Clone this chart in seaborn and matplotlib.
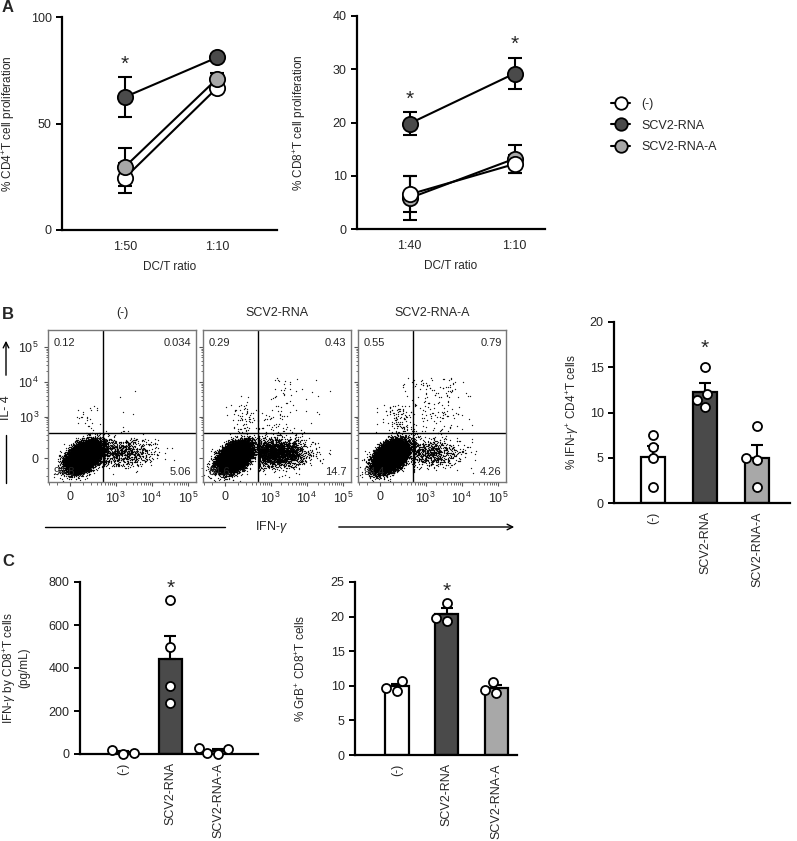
import numpy as np
import pandas as pd
import matplotlib
matplotlib.use("Agg")
import matplotlib.pyplot as plt
import seaborn as sns
from matplotlib.lines import Line2D

# ---- data ----
groups = ["(-)", "SCV2-RNA", "SCV2-RNA-A"]
palette = {"(-)": "#ffffff", "SCV2-RNA": "#4a4a4a", "SCV2-RNA-A": "#a8a8a8"}

# A: proliferation, mean and error (SEM)
cd4_ratios = ["1:50", "1:10"]
cd4_mean = {"(-)": [24.4, 66.7], "SCV2-RNA": [62.4, 81.0], "SCV2-RNA-A": [29.6, 71.0]}
cd4_err = {"(-)": [7.0, 1.5], "SCV2-RNA": [9.5, 1.5], "SCV2-RNA-A": [9.0, 2.5]}
cd8_ratios = ["1:40", "1:10"]
cd8_mean = {"(-)": [6.5, 12.2], "SCV2-RNA": [19.8, 29.2], "SCV2-RNA-A": [5.8, 13.2]}
cd8_err = {"(-)": [3.4, 1.7], "SCV2-RNA": [2.2, 3.0], "SCV2-RNA-A": [4.1, 2.6]}

# B: flow quadrant percentages (UL, UR, LL, LR)
q_ul = [0.12, 0.29, 0.55]
q_ur = [0.034, 0.43, 0.79]
q_ll = [94.8, 84.6, 94.4]
q_lr = [5.06, 14.7, 4.26]
flow_ticks = [0, 1e3, 1e4, 1e5]
flow_ticklabels = ["0", "$10^3$", "$10^4$", "$10^5$"]

# B right: % IFN-g+ CD4+ T cells (individual replicates)
ifng_cd4 = {"(-)": [7.5, 6.2, 5.0, 1.8],
            "SCV2-RNA": [15.0, 12.0, 11.4, 10.6],
            "SCV2-RNA-A": [8.5, 5.0, 4.7, 1.8]}
# C: IFN-g by CD8+ T cells (pg/mL) and % GrB+ CD8+ T cells
ifng_cd8 = {"(-)": [0, 3, 18],
            "SCV2-RNA": [714, 496, 316, 237],
            "SCV2-RNA-A": [25, 28, 2, 3]}
grb_cd8 = {"(-)": [10.7, 9.3, 9.7],
           "SCV2-RNA": [22.0, 19.4, 19.8],
           "SCV2-RNA-A": [10.5, 9.0, 9.4]}

sns.set_style("ticks")
plt.rcParams["font.family"] = ["Liberation Sans", "DejaVu Sans"]
plt.rcParams["mathtext.fontset"] = "custom"
plt.rcParams["mathtext.rm"] = "Liberation Sans"
plt.rcParams["mathtext.it"] = "Liberation Sans:italic"

W, H = 797, 841
fig = plt.figure(figsize=(W / 100, H / 100), dpi=100)


def px_axes(x0, y0, x1, y1):
    # axes from pixel box (top-left origin)
    return fig.add_axes([x0 / W, 1 - y1 / H, (x1 - x0) / W, (y1 - y0) / H])


def style_axes(ax):
    sns.despine(ax=ax)
    for s in ["left", "bottom"]:
        ax.spines[s].set_linewidth(1.6)
        ax.spines[s].set_color("black")
    ax.tick_params(axis="both", labelsize=9, width=1.4, length=4, color="black")


# ---------- panel A ----------
def prolif(ax, ratios, means, errs, ylim, yticks, ylabel, stars, order):
    for g in order:
        d = pd.DataFrame({"ratio": ratios, "value": means[g]})
        ax.errorbar(d["ratio"], d["value"], yerr=errs[g], fmt="none", ecolor="black",
                    elinewidth=1.5, capsize=5, capthick=1.5, zorder=2)
        sns.lineplot(data=d, x="ratio", y="value", sort=False, color="black", lw=1.5,
                     marker="o", markersize=11, markerfacecolor=palette[g],
                     markeredgecolor="black", markeredgewidth=1.3, ax=ax, zorder=3)
    for x, y in stars:
        ax.text(x, y, "*", ha="center", va="center", fontsize=15)
    ax.set_ylim(*ylim)
    ax.set_yticks(yticks)
    ax.set_ylabel(ylabel, fontsize=8.5)
    ax.set_xlabel("DC/T ratio", fontsize=8.5, labelpad=6)
    style_axes(ax)
    ax.tick_params(axis="x", length=0, pad=8)


axA1 = px_axes(62, 17, 277, 230)
prolif(axA1, cd4_ratios, cd4_mean, cd4_err, (0, 100), [0, 50, 100],
       "% CD4$^{+}$T cell proliferation", [(0, 78)], ["(-)", "SCV2-RNA-A", "SCV2-RNA"])
axA1.set_xlim(-0.68, 1.65)
axA1.yaxis.set_label_coords(-0.21, 0.5)

axA2 = px_axes(357, 16, 545, 229)
prolif(axA2, cd8_ratios, cd8_mean, cd8_err, (0, 40), [0, 10, 20, 30, 40],
       "% CD8$^{+}$T cell proliferation", [(0, 24.3), (1, 34.6)], ["SCV2-RNA-A", "(-)", "SCV2-RNA"])
axA2.set_xlim(-0.5, 1.29)
axA2.yaxis.set_label_coords(-0.26, 0.5)

handles = [Line2D([0], [0], color="black", lw=1.5, marker="o", markersize=9,
                  markerfacecolor=palette[g], markeredgecolor="black", markeredgewidth=1.3)
           for g in groups]
fig.legend(handles, groups, loc="upper left", bbox_to_anchor=(600 / W, 1 - 87 / H),
           frameon=False, fontsize=9, handlelength=1.5, handletextpad=0.9, labelspacing=0.75)

# ---------- panel B flow plots ----------
wx, wy = 112.0, 134.0
rng = np.random.default_rng(3)
n_events = 20000
blob_u = [0.85, 0.6, 0.65]

for i, g in enumerate(groups):
    x0 = [48, 203, 358][i]
    ax = px_axes(x0, 330, x0 + 148, 482)
    ax.set_xscale("function", functions=(lambda x: np.arcsinh(x / wx), lambda u: wx * np.sinh(u)))
    ax.set_yscale("function", functions=(lambda y: np.arcsinh(y / wy), lambda v: wy * np.sinh(v)))
    n_ll = int(n_events * q_ll[i] / 100)
    n_lr = int(n_events * q_lr[i] / 100)
    n_ul = max(int(n_events * q_ul[i] / 100), 3)
    n_ur = max(int(n_events * q_ur[i] / 100), 3)
    cov = [[0.24, 0.1], [0.1, 0.2]]
    ll = rng.multivariate_normal([blob_u[i], 0.1], cov, n_ll)
    lr = np.column_stack([rng.normal(3.2, 1.0, n_lr), rng.normal(0.35, 0.45, n_lr)])
    lr[:, 0] = np.clip(lr[:, 0], 2.15, 7.2)
    ul = np.column_stack([rng.normal(1.2, 0.5, n_ul), rng.uniform(1.7, 3.5, n_ul)])
    ur = np.column_stack([rng.normal(3.6, 1.0, n_ur), rng.uniform(1.7, 5.3, n_ur)])
    uv = np.vstack([ll, lr, ul, ur])
    ev = pd.DataFrame({"IFNg": wx * np.sinh(uv[:, 0]), "IL4": wy * np.sinh(uv[:, 1])})
    sns.scatterplot(data=ev, x="IFNg", y="IL4", s=0.9, color="black", linewidth=0,
                    alpha=0.9, ax=ax, rasterized=True, zorder=1)
    ax.set_xlim(-215, 167000)
    ax.set_ylim(-311, 304000)
    ax.axvline(450, color="black", lw=1, zorder=2)
    ax.axhline(330, color="black", lw=1, zorder=2)
    ax.set_xticks(flow_ticks)
    ax.set_xticklabels(flow_ticklabels)
    minor = [k * 10 ** d for d in range(2, 5) for k in range(2, 10)] + [-100, -200, 100]
    ax.set_xticks(minor, minor=True)
    ax.set_yticks(flow_ticks)
    ax.set_yticks(minor, minor=True)
    if i == 0:
        ax.set_yticklabels(flow_ticklabels)
    else:
        ax.set_yticklabels([])
    ax.tick_params(axis="both", which="major", labelsize=9, length=3, width=0.8, color="#555555")
    ax.tick_params(axis="both", which="minor", length=1.8, width=0.6, color="#555555")
    ax.set_xlabel("")
    ax.set_ylabel("")
    for s in ax.spines.values():
        s.set_color("#777777")
        s.set_linewidth(1.0)
    ax.set_title(g, fontsize=9, pad=10)
    tkw = dict(transform=ax.transAxes, fontsize=8, zorder=5)
    ax.text(0.04, 0.95, f"{q_ul[i]:g}", ha="left", va="top", **tkw)
    ax.text(0.97, 0.95, f"{q_ur[i]:g}", ha="right", va="top", **tkw)
    ax.text(0.04, 0.03, f"{q_ll[i]:g}", ha="left", va="bottom", **tkw)
    ax.text(0.97, 0.03, f"{q_lr[i]:g}", ha="right", va="bottom", **tkw)

# axis arrows of the flow plots
fig.text(6 / W, 1 - 408 / H, "IL- 4", rotation=90, ha="center", va="center", fontsize=9)
fig.add_artist(Line2D([6 / W, 6 / W], [1 - 435 / H, 1 - 483 / H], color="black", lw=1))
axA1.annotate("", xy=(6 / W, 1 - 338 / H), xytext=(6 / W, 1 - 378 / H), xycoords="figure fraction",
              arrowprops=dict(arrowstyle="->", lw=1, color="black"))
fig.text(272 / W, 1 - 527 / H, "IFN-$\\gamma$", ha="center", va="center", fontsize=9)
fig.add_artist(Line2D([45 / W, 225 / W], [1 - 527 / H, 1 - 527 / H], color="black", lw=1))
axA1.annotate("", xy=(517 / W, 1 - 527 / H), xytext=(336 / W, 1 - 527 / H), xycoords="figure fraction",
              arrowprops=dict(arrowstyle="->", lw=1, color="black"))


# ---------- bar panels ----------
def bar_panel(ax, values, ylim, yticks, ylabel, star_y, xlim, width):
    df = pd.DataFrame([(g, v) for g in groups for v in values[g]], columns=["group", "value"])
    sns.barplot(data=df, x="group", y="value", hue="group", order=groups, palette=palette,
                errorbar=None, edgecolor="black", linewidth=1.6, width=width, legend=False,
                ax=ax, zorder=1)
    stats = df.groupby("group", sort=False)["value"].agg(["mean", "sem"]).reindex(groups)
    ax.errorbar(range(len(groups)), stats["mean"], yerr=[np.zeros(len(groups)), stats["sem"]],
                fmt="none", ecolor="black", elinewidth=1.5, capsize=4, capthick=1.5, zorder=2)
    sns.swarmplot(data=df, x="group", y="value", order=groups, color="white", edgecolor="black",
                  linewidth=1.3, size=6.5, ax=ax, zorder=3)
    ax.text(1, star_y, "*", ha="center", va="center", fontsize=15)
    ax.set_ylim(*ylim)
    ax.set_yticks(yticks)
    ax.set_xlim(*xlim)
    ax.set_xlabel("")
    ax.set_ylabel(ylabel, fontsize=8.5, linespacing=1.05)
    style_axes(ax)
    ax.tick_params(axis="x", length=0, pad=6)
    ax.set_xticks(range(len(groups)))
    ax.set_xticklabels(groups, rotation=90, fontsize=9)
    for c in ax.collections:
        c.set_clip_on(False)


axB = px_axes(614, 322, 790, 503)
bar_panel(axB, ifng_cd4, (0, 20), [0, 5, 10, 15, 20], "% IFN-$\\gamma^{+}$ CD4$^{+}$T cells",
          17.1, (-0.75, 2.63), 0.45)
axB.yaxis.set_label_coords(-0.19, 0.5)

axC1 = px_axes(80, 582, 258, 754)
bar_panel(axC1, ifng_cd8, (0, 800), [0, 200, 400, 600, 800],
          "IFN-$\\gamma$ by CD8$^{+}$T cells\n(pg/mL)", 770, (-0.9, 2.84), 0.49)
axC1.yaxis.set_label_coords(-0.28, 0.5)

axC2 = px_axes(355, 582, 517, 755)
bar_panel(axC2, grb_cd8, (0, 25), [0, 5, 10, 15, 20, 25], "% GrB$^{+}$ CD8$^{+}$T cells",
          23.6, (-0.85, 2.42), 0.47)
axC2.yaxis.set_label_coords(-0.29, 0.5)

# panel letters
for lbl, y in [("A", 8), ("B", 315), ("C", 562)]:
    fig.text(2 / W, 1 - y / H, lbl, fontsize=12, fontweight="bold", ha="left", va="center")

fig.savefig("out.png", dpi=100)
